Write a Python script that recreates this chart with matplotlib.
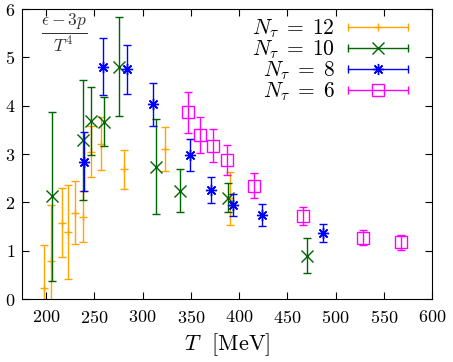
import matplotlib
matplotlib.use('Agg')
import matplotlib.pyplot as plt
from matplotlib.lines import Line2D
from matplotlib.legend_handler import HandlerLine2D
import numpy as np

plt.rcParams['font.family'] = ['cmr10']
plt.rcParams['mathtext.fontset'] = 'cm'
plt.rcParams['axes.formatter.use_mathtext'] = True

# N_tau = 12
T12 = [198, 205, 216, 223, 230, 238, 246, 257, 281, 323, 391]
e12 = [0.22, 0.79, 1.58, 1.39, 1.79, 1.70, 3.05, 3.21, 2.68, 3.10, 2.08]
d12 = [0.90, 1.15, 0.71, 0.97, 0.65, 0.53, 0.52, 0.55, 0.41, 0.45, 0.55]

# N_tau = 10
T10 = [206, 238, 246, 260, 276, 314, 339, 389, 470]
e10 = [2.13, 3.29, 3.69, 3.67, 4.81, 2.74, 2.24, 2.10, 0.90]
d10 = [1.75, 1.24, 0.70, 0.50, 1.03, 0.98, 0.44, 0.30, 0.36]

# N_tau = 8
T8 = [239, 259, 284, 311, 349, 371, 394, 424, 487]
e8 = [2.84, 4.81, 4.75, 4.03, 2.98, 2.26, 1.94, 1.74, 1.36]
d8 = [0.61, 0.59, 0.51, 0.45, 0.33, 0.27, 0.23, 0.22, 0.19]

# N_tau = 6
T6 = [347, 360, 373, 388, 415, 466, 528, 568]
e6 = [3.86, 3.39, 3.17, 2.88, 2.34, 1.72, 1.27, 1.17]
d6 = [0.43, 0.37, 0.34, 0.31, 0.26, 0.19, 0.15, 0.15]

labels = [r'$N_\tau\;=\;12$', r'$N_\tau\;=\;10$', r'$N_\tau\;=\;8$', r'$N_\tau\;=\;6$']
colors = ['#ffa500', '#006400', '#0000ff', '#ff00ff']
markers = ['+', 'x', (8, 2, 0), 's']
msizes = [6, 8, 8, 8]


class CapHandler(HandlerLine2D):
    def create_artists(self, legend, orig_handle, xdescent, ydescent,
                       width, height, fontsize, trans):
        arts = super().create_artists(legend, orig_handle, xdescent, ydescent,
                                      width, height, fontsize, trans)
        y = (height - ydescent) / 2
        caps = Line2D([-xdescent, width - xdescent], [y, y], linestyle='none',
                      marker='|', markersize=6, markeredgewidth=1,
                      color=orig_handle.get_color(), transform=trans)
        return arts + [caps]


fig = plt.figure(figsize=(4.53, 3.62), dpi=100)
ax = fig.add_axes([0.0486, 0.174, 0.905, 0.801])

series = [(T12, e12, d12), (T10, e10, d10), (T8, e8, d8), (T6, e6, d6)]
handles = []
for (T, e, d), c, m, ms, lab in zip(series, colors, markers, msizes, labels):
    mfc = 'none' if m == 's' else c
    ax.errorbar(T, e, yerr=d, fmt='none', ecolor=c, elinewidth=1, capsize=3, capthick=1)
    ax.plot(T, e, linestyle='none', marker=m, markersize=ms, color=c,
            markerfacecolor=mfc, markeredgewidth=1)
    handles.append(Line2D([], [], color=c, marker=m, markersize=ms, lw=1,
                          markerfacecolor=mfc, markeredgewidth=1, label=lab))

ax.set_xlim(175, 600)
ax.set_ylim(0, 6)
ax.set_xticks(np.arange(200, 601, 50))
ax.set_yticks(np.arange(0, 7, 1))
ax.tick_params(direction='in', top=True, right=True, length=5, labelsize=13)
ax.tick_params(axis='x', pad=7)
ax.tick_params(axis='y', pad=5)

ax.set_xlabel(r'$T$  [MeV]', fontsize=16, labelpad=4)
ax.text(0.102, 0.917, r'$\frac{\epsilon-3p}{T^4}$', transform=ax.transAxes,
        fontsize=18, ha='center', va='center', color='#333333')

ax.legend(handles=handles, loc='upper right', bbox_to_anchor=(0.941, 0.97),
          frameon=False, markerfirst=False, fontsize=15.5, handlelength=2.8,
          handletextpad=0.6, labelspacing=-0.08, borderpad=0.0, borderaxespad=0.0,
          handler_map={Line2D: CapHandler()})

fig.savefig('out.png', dpi=100)
